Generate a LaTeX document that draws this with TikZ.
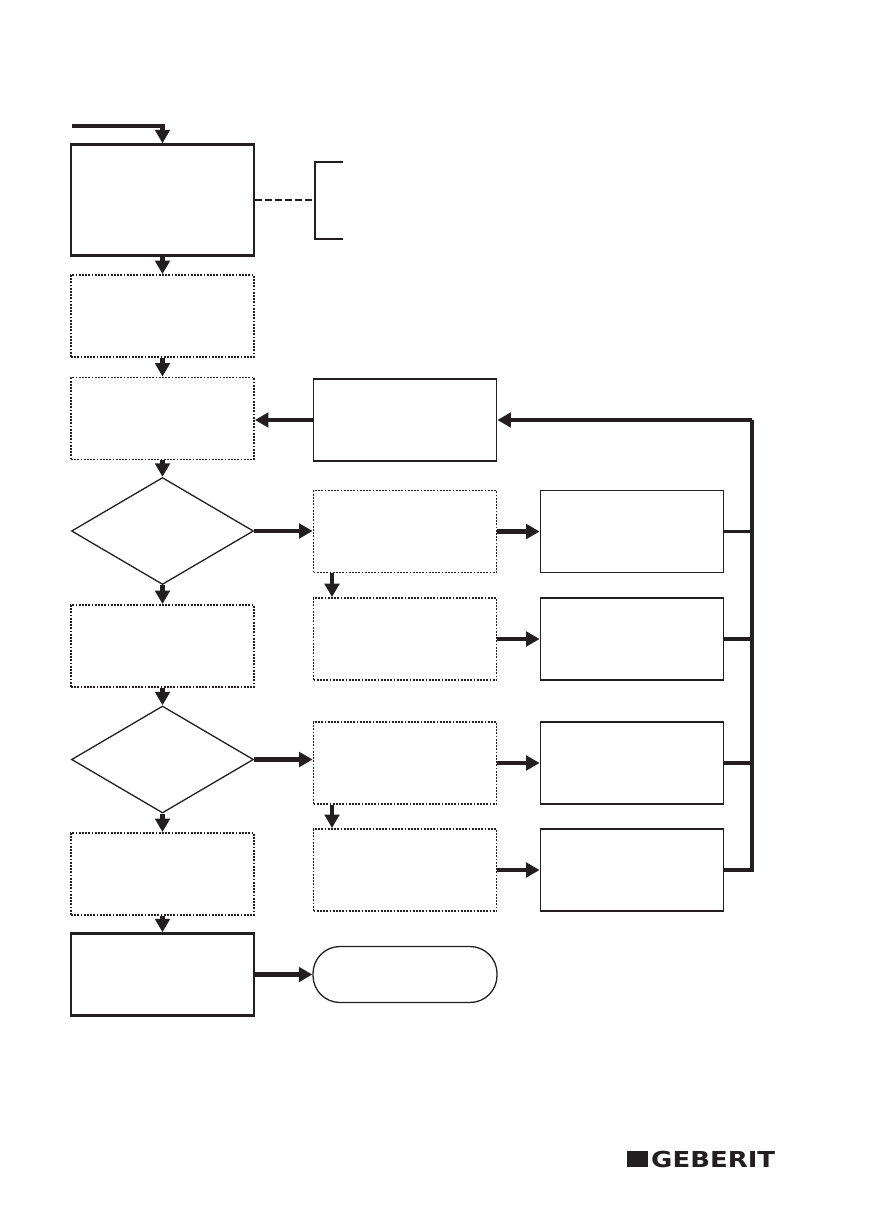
\documentclass[tikz,border=0pt]{standalone}
\usepackage{fontspec}
\newfontfamily\logofont{DejaVu Sans}
\usepackage{tikz}
\usetikzlibrary{arrows.meta, shapes.geometric}
\definecolor{ink}{RGB}{35,31,32}

\begin{document}
\begin{tikzpicture}[x=1pt, y=-1pt, ink,
		solidbox/.style = {draw, line width=1.8pt, minimum width=183pt, minimum height=82pt, inner sep=0pt},
		heavybox/.style = {solidbox, line width=2.4pt},
		dotbox/.style = {solidbox, line width=1.8pt, dash pattern=on 1.8pt off 1.4pt},
		decision/.style = {draw, diamond, line width=1.3pt, minimum width=182pt, minimum height=107pt, inner sep=0pt},
		terminal/.style = {draw, line width=1.3pt, rounded corners=27pt, minimum width=184pt, minimum height=56pt, inner sep=0pt},
		flow/.style = {line width=4.3pt, -{Triangle[length=13.5pt, width=14.5pt]}},
		link/.style = {line width=3.6pt}]
			\useasboundingbox (0,0) rectangle (875,1225);

			\node [heavybox, minimum height=111pt] (a) at (162.5,200) {};
			\node [dotbox] (b) at (162.5,316) {};
			\node [dotbox] (c) at (162.5,418.5) {};
			\node [solidbox] (d) at (405,420) {};
			\node [decision] (q1) at (162.5,531) {};
			\node [dotbox] (e) at (405,531.5) {};
			\node [dotbox] (f) at (405,639) {};
			\node [solidbox] (g) at (632,531.5) {};
			\node [solidbox] (h) at (632,639) {};
			\node [dotbox] (i) at (162.5,646) {};
			\node [decision] (q2) at (162.5,759.5) {};
			\node [dotbox] (j) at (405,763) {};
			\node [dotbox] (k) at (405,870) {};
			\node [solidbox] (l) at (632,763) {};
			\node [solidbox] (m) at (632,870) {};
			\node [dotbox] (n) at (162.5,874) {};
			\node [heavybox] (o) at (162.5,974.5) {};
			\node [terminal] (p) at (405,974.5) {};

			\coordinate (start) at (72,126);
			\coordinate (bus) at (752,420);
			\coordinate (brace) at (315,162);

			\draw [flow] (start) -| (a.north);
			\draw [flow] (a) -- (b);
			\draw [flow] (b) -- (c);
			\draw [flow] (c) -- (q1);
			\draw [flow] (q1) -- (i);
			\draw [flow] (i) -- (q2);
			\draw [flow] (q2) -- (n);
			\draw [flow] (n) -- (o);
			\draw [flow] (o) -- (p);
			\draw [flow] (d.west) -- (d.west -| c.east);
			\draw [flow] (q1.east) -- (q1.east -| e.west);
			\draw [flow] (q2.east) -- (q2.east -| j.west);
			\draw [flow] ([xshift=-73pt]e.south) -- ([xshift=-73pt]f.north);
			\draw [flow] ([xshift=-73pt]j.south) -- ([xshift=-73pt]k.north);
			\draw [flow] (e) -- (g);
			\draw [flow] (f) -- (h);
			\draw [flow] (j) -- (l);
			\draw [flow] (k) -- (m);

			\draw [link, line width=4pt] (m.east) -| (bus);
			\draw [flow, line width=4pt] (bus) -- (d.east);
			\draw [link] (g.east) -- (g.east -| bus);
			\draw [link] (h.east) -- (h.east -| bus);
			\draw [link] (l.east) -- (l.east -| bus);

			\draw [line width=1.6pt, dash pattern=on 7pt off 3pt] (a.east) -- (a.east -| brace);
			\draw [line width=1.3pt] ([xshift=28pt]brace) -- (brace) -- ++(0,77) -- ++(28,0);

			\fill (627,1151) rectangle (648,1167);
			\node [anchor=base west, inner sep=0pt] (logo) at (651,1167) {\scalebox{1.18}[1]{\logofont\bfseries\fontsize{22}{22}\selectfont GEBERIT}};
		\end{tikzpicture}
\end{document}
